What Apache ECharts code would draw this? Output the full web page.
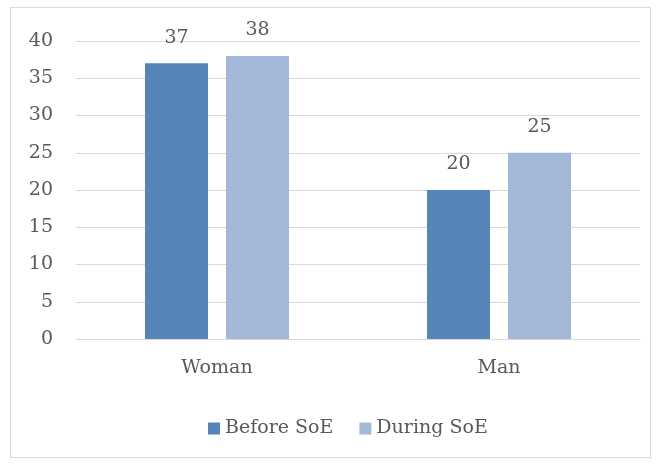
<!DOCTYPE html>
<html><head><meta charset="utf-8">
<script src="https://cdn.jsdelivr.net/npm/echarts@6/dist/echarts.min.js"></script>
<style>html,body{margin:0;padding:0;background:#fff}#c{width:662px;height:466px}
#frame{position:absolute;left:10px;top:7px;width:641px;height:451px;border:1px solid #d9d9d9;box-sizing:border-box;pointer-events:none}</style>
</head><body><div id="c"></div><div id="frame"></div>
<script>
const categories = ['Woman', 'Man'];
const beforeSoE = [37, 20];
const duringSoE = [38, 25];
const yTicks = {min: 0, max: 40, interval: 5};
const FONT = 'DejaVu Serif';
const TXT = '#595959';
const FS = 19;
const chart = echarts.init(document.getElementById('c'));
chart.setOption({
  animation: false,
  textStyle: {fontFamily: FONT, color: TXT},
  grid: {left: 76, right: 22, top: 41, bottom: 127, containLabel: false},
  legend: {
    top: 414, left: 203, itemWidth: 12, itemHeight: 12, itemGap: 26,
    textStyle: {fontFamily: FONT, fontSize: FS, color: TXT},
    icon: 'rect', data: ['Before SoE', 'During SoE']
  },
  xAxis: {
    type: 'category', data: categories,
    axisLine: {lineStyle: {color: '#d9d9d9', width: 1}},
    axisTick: {show: false},
    axisLabel: {fontFamily: FONT, fontSize: FS, color: TXT, margin: 20}
  },
  yAxis: {
    type: 'value', min: yTicks.min, max: yTicks.max, interval: yTicks.interval,
    axisLine: {show: false}, axisTick: {show: false},
    splitLine: {lineStyle: {color: '#d9d9d9', width: 1}},
    axisLabel: {fontFamily: FONT, fontSize: FS, color: TXT, margin: 23}
  },
  series: [
    {name: 'Before SoE', type: 'bar', data: beforeSoE, barWidth: 63, barGap: '28.6%',
     itemStyle: {color: '#5584b6'},
     label: {show: true, position: 'top', distance: 16, fontFamily: FONT, fontSize: FS, color: TXT}},
    {name: 'During SoE', type: 'bar', data: duringSoE, barWidth: 63,
     itemStyle: {color: '#a3b8d9'},
     label: {show: true, position: 'top', distance: 16, fontFamily: FONT, fontSize: FS, color: TXT}}
  ]
});
</script></body></html>
